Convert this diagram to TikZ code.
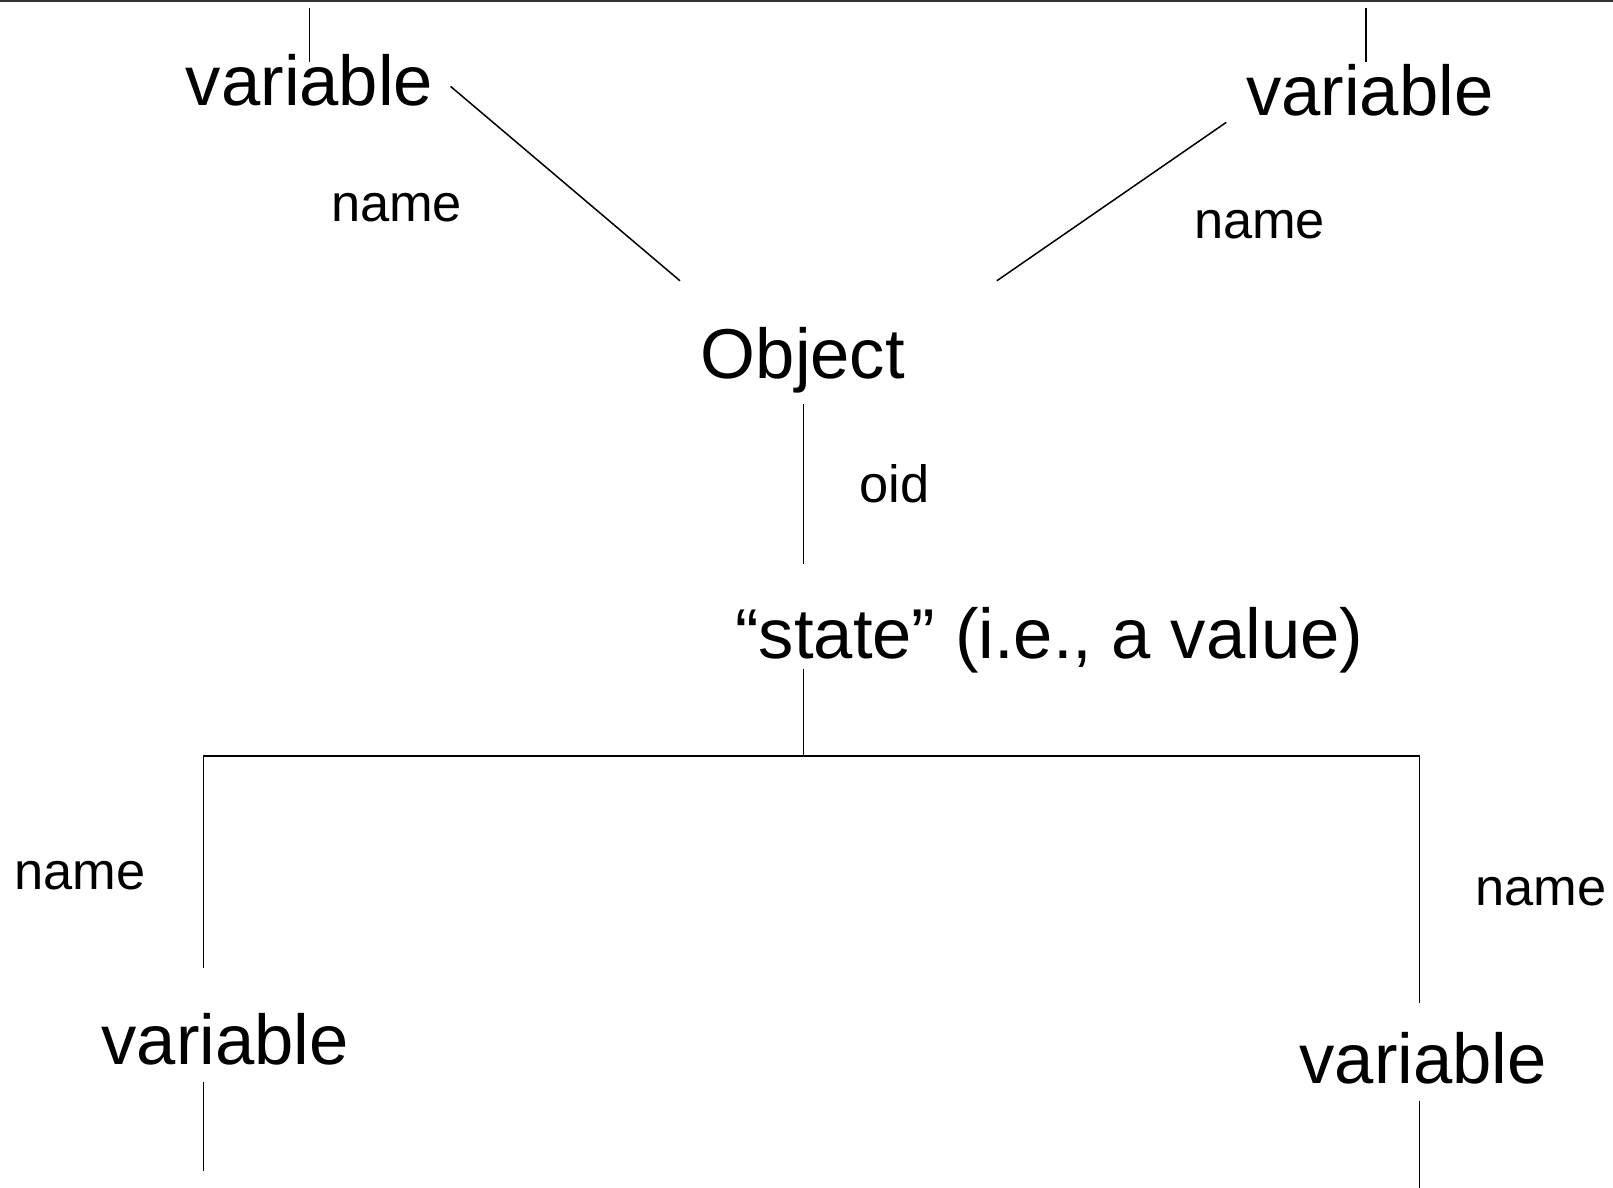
\documentclass[tikz,border=0pt]{standalone}
\usepackage{fontspec}
\setmainfont{Liberation Sans}
\begin{document}
\begin{tikzpicture}[x=0.5pt,y=-0.5pt,
  big/.style={inner sep=0pt,anchor=base,font=\fontsize{35.3}{42}\selectfont},
  small/.style={inner sep=0pt,anchor=base,font=\fontsize{26.2}{31}\selectfont},
  edge/.style={line width=0.75pt,black}]
\useasboundingbox (0,0) rectangle (1613,1188);
\fill[white] (0,0) rectangle (1613,1188);
\draw[line width=1pt,black!80] (0,1) -- (1613,1);
% nodes
\node[big] (vtl) at (309.6,106) {variable};
\node[big] (vtr) at (1369.7,115.2) {variable};
\node[big] (obj) at (802.9,378.6) {Object};
\node[big] (state) at (1049.3,658.4) {“state” (i.e., a value)};
\node[big] (vbl) at (225.3,1064.7) {variable};
\node[big] (vbr) at (1423.2,1083.2) {variable};
\node[small] (n1) at (396.6,221.2) {name};
\node[small] (n2) at (1259.6,238.7) {name};
\node[small] (oid) at (894.5,502) {oid};
\node[small] (n3) at (80.2,889.8) {name};
\node[small] (n4) at (1541,905.3) {name};
% connector ends
\coordinate (tl0) at (309.6,8.2);
\coordinate (tl1) at (309.6,61.7);
\coordinate (tr0) at (1366,8.2);
\coordinate (tr1) at (1366,61.7);
\coordinate (d1a) at (450.6,86.4);
\coordinate (d1b) at (680,280.8);
\coordinate (d2a) at (1226.2,122.4);
\coordinate (d2b) at (996.8,280.8);
\coordinate (o0) at (803.4,404.3);
\coordinate (o1) at (803.4,563.7);
\coordinate (s0) at (803.4,668.7);
\coordinate (s1) at (803.4,756.1);
\coordinate (hl) at (203.7,756.1);
\coordinate (hr) at (1419.6,756.1);
\coordinate (l1) at (203.7,968);
\coordinate (r1) at (1419.6,1003);
\coordinate (bl0) at (203.7,1082.2);
\coordinate (bl1) at (203.7,1170.6);
\coordinate (br0) at (1419.6,1100.7);
\coordinate (br1) at (1419.6,1188);
% connectors
\draw[edge] (tl0) -- (tl1);
\draw[edge] (tr0) -- (tr1);
\draw[edge] (d1a) -- (d1b);
\draw[edge] (d2a) -- (d2b);
\draw[edge] (o0) -- (o1);
\draw[edge] (s0) -- (s1);
\draw[edge] (l1) -- (hl) -- (hr) -- (r1);
\draw[edge] (bl0) -- (bl1);
\draw[edge] (br0) -- (br1);
\end{tikzpicture}
\end{document}
